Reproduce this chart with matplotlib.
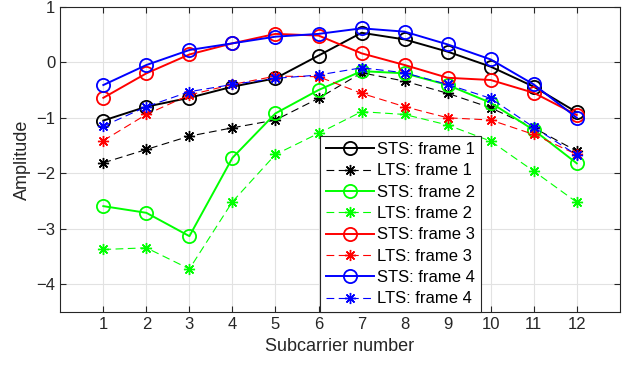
import matplotlib
matplotlib.use("Agg")
import matplotlib.pyplot as plt
import numpy as np

plt.rcParams['font.family'] = ['Liberation Sans', 'DejaVu Sans']

subcarriers = np.arange(1, 13)

sts_f1 = [-1.05, -0.80, -0.64, -0.44, -0.29, 0.12, 0.53, 0.41, 0.19, -0.08, -0.44, -0.90]
lts_f1 = [-1.81, -1.57, -1.33, -1.18, -1.04, -0.65, -0.19, -0.34, -0.56, -0.82, -1.18, -1.60]
sts_f2 = [-2.59, -2.71, -3.13, -1.72, -0.92, -0.50, -0.16, -0.20, -0.41, -0.73, -1.22, -1.82]
lts_f2 = [-3.37, -3.34, -3.72, -2.51, -1.66, -1.28, -0.89, -0.94, -1.13, -1.42, -1.96, -2.52]
sts_f3 = [-0.64, -0.20, 0.14, 0.34, 0.51, 0.48, 0.16, -0.05, -0.28, -0.32, -0.55, -0.95]
lts_f3 = [-1.41, -0.94, -0.59, -0.40, -0.25, -0.26, -0.56, -0.80, -1.00, -1.04, -1.30, -1.66]
sts_f4 = [-0.41, -0.05, 0.22, 0.34, 0.46, 0.51, 0.61, 0.55, 0.32, 0.05, -0.40, -1.00]
lts_f4 = [-1.15, -0.80, -0.53, -0.40, -0.29, -0.23, -0.10, -0.19, -0.40, -0.65, -1.17, -1.67]

series = [
  ("STS: frame 1", sts_f1, "k", "sts"),
  ("LTS: frame 1", lts_f1, "k", "lts"),
  ("STS: frame 2", sts_f2, "#00ff00", "sts"),
  ("LTS: frame 2", lts_f2, "#00ff00", "lts"),
  ("STS: frame 3", sts_f3, "r", "sts"),
  ("LTS: frame 3", lts_f3, "r", "lts"),
  ("STS: frame 4", sts_f4, "b", "sts"),
  ("LTS: frame 4", lts_f4, "b", "lts"),
]

fig = plt.figure(figsize=(6.28, 3.70), dpi=100)
ax = fig.add_axes([0.096, 0.156, 0.891, 0.826])

asterisk = (8, 2, 0)
for label, vals, col, kind in series:
  if kind == "sts":
    ax.plot(subcarriers, vals, '-', color=col, lw=1.4, marker='o', ms=9.5,
            mfc='none', mec=col, mew=1.3, label=label)
  else:
    ax.plot(subcarriers, vals, '--', color=col, lw=0.8, dashes=(7, 4), marker=asterisk,
            ms=8, mec=col, mew=1.0, label=label)

ax.set_xlim(0, 13)
ax.set_ylim(-4.5, 1)
ax.set_xticks(subcarriers)
ax.set_yticks([-4, -3, -2, -1, 0, 1])
ax.grid(True, color='#e2e2e2', lw=0.8)
ax.set_axisbelow(True)
ax.tick_params(direction='in', top=True, right=True, labelsize=12, length=4,
               color='#262626', labelcolor='#262626')
for sp in ax.spines.values():
  sp.set_color('#262626')
  sp.set_linewidth(0.8)

ax.set_xlabel("Subcarrier number", fontsize=13, color='#262626')
ax.set_ylabel("Amplitude", fontsize=13, color='#262626')

leg = ax.legend(loc='lower right', bbox_to_anchor=(0.752, 0.0), fontsize=12,
                handlelength=2.9, handletextpad=0.2, labelspacing=0.38,
                borderpad=0.35, borderaxespad=0, fancybox=False, framealpha=1,
                edgecolor='#262626')
leg.get_frame().set_linewidth(0.8)

fig.savefig("out.png", dpi=100)
